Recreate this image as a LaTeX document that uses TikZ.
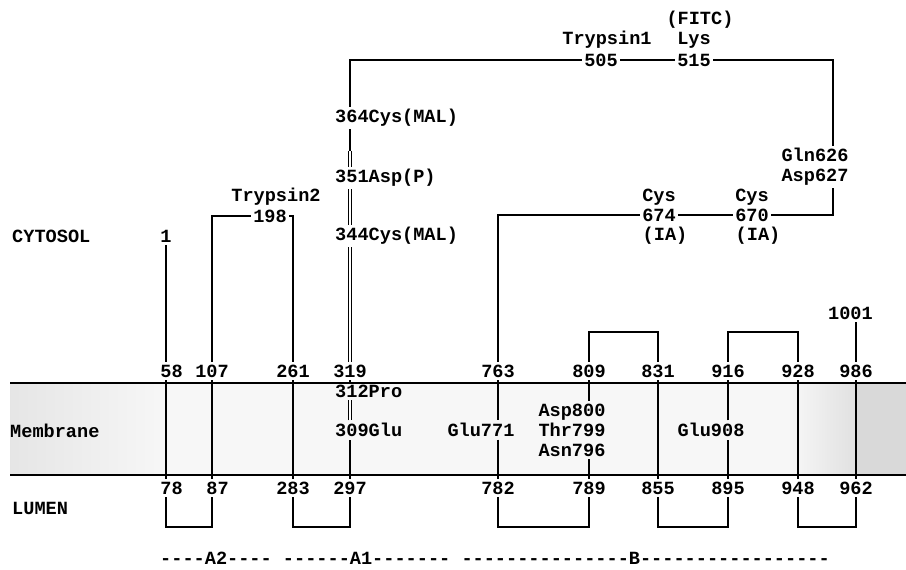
\documentclass[tikz,border=0pt]{standalone}
\usepackage{fontspec}
\setmonofont{Liberation Mono}
\usetikzlibrary{positioning}
\newcommand{\seqfont}{\fontsize{18.6}{20}\selectfont\ttfamily\bfseries}

\begin{document}
\begin{tikzpicture}[x=1pt,y=-1pt,every node/.style={font=\seqfont,inner sep=2.5pt},
  seg/.style={line width=1.2pt},
  dseg/.style={double,double distance=2pt,line width=.8pt},
  tag/.style={anchor=west}]
\useasboundingbox (0,0) rectangle (906,570);
% membrane band
\fill[gray!6] (10,383) rectangle (906,475);
\shade[left color=gray!20,right color=gray!6] (10,383) rectangle (170,475);
\shade[left color=gray!6,right color=gray!24] (790,383) rectangle (856,475);
\fill[gray!30] (856,383) rectangle (906,475);
\draw[line width=1.6pt] (10,383) -- (906,383);
\draw[line width=1.6pt] (10,475) -- (906,475);
\node[tag] (cyto) at (9.5,236) {CYTOSOL};
\node[tag] (memb) at (7.5,431) {Membrane};
\node[tag] (lum) at (9.5,508) {LUMEN};
% cytosolic side
\node (n1) at (166,236) {1};
\node (n58) at (166,371) {\phantom{0}58};
\node (n107) at (212,371) {107};
\node (n261) at (293,371) {261};
\node (n319) at (350,371) {319};
\node (n763) at (498,371) {763};
\node (n809) at (589,371) {809};
\node (n831) at (658,371) {831};
\node (n916) at (728,371) {916};
\node (n928) at (798,371) {928};
\node (n986) at (856,371) {986};
\node (n1001) at (856,313) {1001\phantom{0}};
\node (n198) at (270,216) {198};
\node (tryp2) at (276,197) {Trypsin2};
\node[tag] (c364) at (332.5,118) {364Cys(MAL)};
\node[tag] (a351) at (332.5,178) {351Asp(P)};
\node[tag] (c344) at (332.5,236) {344Cys(MAL)};
\node (n505) at (601,60) {505};
\node (tryp1) at (607,40) {Trypsin1};
\node (n515) at (694,60) {515};
\node (lys) at (694,40) {Lys};
\node (fitc) at (700,20) {(FITC)};
\node[align=center] (gln) at (815,167) {Gln626\\Asp627};
\node (n670) at (752,215) {670};
\node (cys670) at (752,197) {Cys};
\node (ia670) at (758,236) {(IA)};
\node (n674) at (659,215) {674};
\node (cys674) at (659,197) {Cys};
\node (ia674) at (665,236) {(IA)};
% inside the membrane
\node[tag] (p312) at (332.5,391) {312Pro};
\node[tag] (g309) at (332.5,430) {309Glu};
\node (g771) at (481,430) {Glu771};
\node[align=center] (asp) at (572,430) {Asp800\\Thr799\\Asn796};
\node (g908) at (711,430) {Glu908};
% lumenal side
\node (n78) at (166,488) {\phantom{0}78};
\node (n87) at (212,488) {\phantom{0}87};
\node (n283) at (293,488) {283};
\node (n297) at (350,488) {297};
\node (n782) at (498,488) {782};
\node (n789) at (589,488) {789};
\node (n855) at (658,488) {855};
\node (n895) at (728,488) {895};
\node (n948) at (798,488) {948};
\node (n962) at (856,488) {962};
\node[tag] (dom) at (157.5,558) {----A2---- ------A1------- ---------------B-----------------};
% chain
\draw[seg] (n1) -- (n58) -- (n78);
\draw[seg] (n78) -- ++(0,39) -| (n87);
\draw[seg] (n87) -- (n107) |- (n198);
\draw[seg] (n198) -| (n261) -- (n283);
\draw[seg] (n283) -- ++(0,39) -| (n297);
\draw[seg] (n297) -- (n319 |- g309.south);
\draw[dseg] (n319 |- g309.north) -- (n319 |- p312.south);
\draw[seg] (n319 |- p312.north) -- (n319);
\draw[dseg] (n319) -- (n319 |- c344.south);
\draw[dseg] (n319 |- c344.north) -- (n319 |- a351.south);
\draw[dseg] (n319 |- a351.north) -- ++(0,-16);
\draw[seg] (n319 |- c364.south) -- ([yshift=16pt]n319 |- a351.north);
\draw[seg] (n319 |- c364.north) |- (n505);
\draw[seg] (n505) -- (n515);
\draw[seg] (n515) -| ([xshift=18pt]gln.north);
\draw[seg] ([xshift=18pt]gln.south) |- (n670);
\draw[seg] (n670) -- (n674);
\draw[seg] (n674) -| (n763);
\draw[seg] (n763) -- (n763 |- g771.north);
\draw[seg] (n763 |- g771.south) -- (n782);
\draw[seg] (n782) -- ++(0,39) -| (n789);
\draw[seg] (n789) -- (n789 |- asp.south);
\draw[seg] (n789 |- asp.north) -- (n809);
\draw[seg] (n809) -- ++(0,-39) -| (n831);
\draw[seg] (n831) -- (n855);
\draw[seg] (n855) -- ++(0,39) -| (n895);
\draw[seg] (n895) -- (n895 |- g908.south);
\draw[seg] (n895 |- g908.north) -- (n916);
\draw[seg] (n916) -- ++(0,-39) -| (n928);
\draw[seg] (n928) -- (n948);
\draw[seg] (n948) -- ++(0,39) -| (n962);
\draw[seg] (n962) -- (n986) -- (n1001);
\end{tikzpicture}
\end{document}
